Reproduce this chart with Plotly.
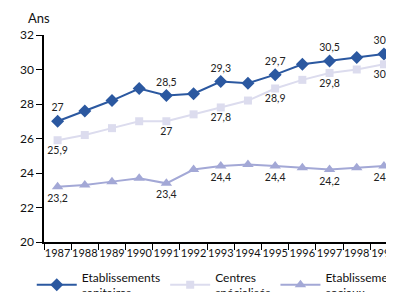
import plotly.graph_objects as go

years = ["1987", "1988", "1989", "1990", "1991", "1992", "1993", "1994", "1995", "1996", "1997", "1998", "1999"]
sanitaires = [27.0, 27.6, 28.2, 28.9, 28.5, 28.6, 29.3, 29.2, 29.7, 30.3, 30.5, 30.7, 30.9]
centres = [25.9, 26.2, 26.6, 27.0, 27.0, 27.4, 27.8, 28.2, 28.9, 29.4, 29.8, 30.0, 30.3]
sociaux = [23.2, 23.3, 23.5, 23.7, 23.4, 24.2, 24.4, 24.5, 24.4, 24.3, 24.2, 24.3, 24.4]
labelled = [0, 4, 6, 8, 10, 12]
names = ["Etablissements<br>sanitaires", "Centres<br>spécialisés", "Etablissements<br>sociaux"]
y_ticks = [20, 22, 24, 26, 28, 30, 32]

def labels(vals):
    return [f"{v:g}".replace(".", ",") if i in labelled else "" for i, v in enumerate(vals)]

FONT = "Lato"
fig = go.Figure()
fig.add_trace(go.Scatter(x=years, y=sanitaires, name=names[0], mode="lines+markers+text",
                         line=dict(color="#2b58a0", width=2),
                         marker=dict(symbol="diamond", size=10, color="#2b58a0"),
                         text=labels(sanitaires), textposition="top center",
                         textfont=dict(size=10.5, color="#222", family=FONT)))
fig.add_trace(go.Scatter(x=years, y=centres, name=names[1], mode="lines+markers+text",
                         line=dict(color="#dcdcee", width=2),
                         marker=dict(symbol="square", size=8, color="#dcdcee"),
                         text=labels(centres), textposition="bottom center",
                         textfont=dict(size=10.5, color="#222", family=FONT)))
fig.add_trace(go.Scatter(x=years, y=sociaux, name=names[2], mode="lines+markers+text",
                         line=dict(color="#a3a8d6", width=2),
                         marker=dict(symbol="triangle-up", size=10, color="#a3a8d6"),
                         text=labels(sociaux), textposition="bottom center",
                         textfont=dict(size=10.5, color="#222", family=FONT)))

fig.update_layout(
    width=386, height=284,
    margin=dict(l=36, r=0, t=27, b=50, autoexpand=False),
    paper_bgcolor="white", plot_bgcolor="white",
    font=dict(family=FONT, size=12, color="#111"),
    showlegend=True,
    legend=dict(orientation="h", x=-0.035, xanchor="left", y=-0.10, yanchor="top",
                font=dict(size=12, family=FONT), tracegroupgap=0, itemwidth=40,
                bgcolor="rgba(0,0,0,0)"),
    annotations=[dict(text="Ans", x=-0.051, y=1.0, xref="paper", yref="paper",
                      xanchor="left", yanchor="bottom", yshift=7, showarrow=False,
                      font=dict(size=13, family=FONT))],
)
fig.update_xaxes(type="category", range=[-0.5, 12.37], showline=True, linecolor="black",
                 linewidth=1.5, ticks="outside", ticklen=6, tickson="boundaries",
                 tickcolor="black", showgrid=False, zeroline=False, automargin=False,
                 tickangle=0, tickfont=dict(size=11, family=FONT))
fig.update_yaxes(range=[20, 32], tickvals=y_ticks, showline=True, linecolor="black",
                 linewidth=1.5, ticks="outside", ticklen=6, tickcolor="black",
                 showgrid=False, zeroline=False, automargin=False,
                 tickfont=dict(size=12, family=FONT))

fig.write_html("out.html")
